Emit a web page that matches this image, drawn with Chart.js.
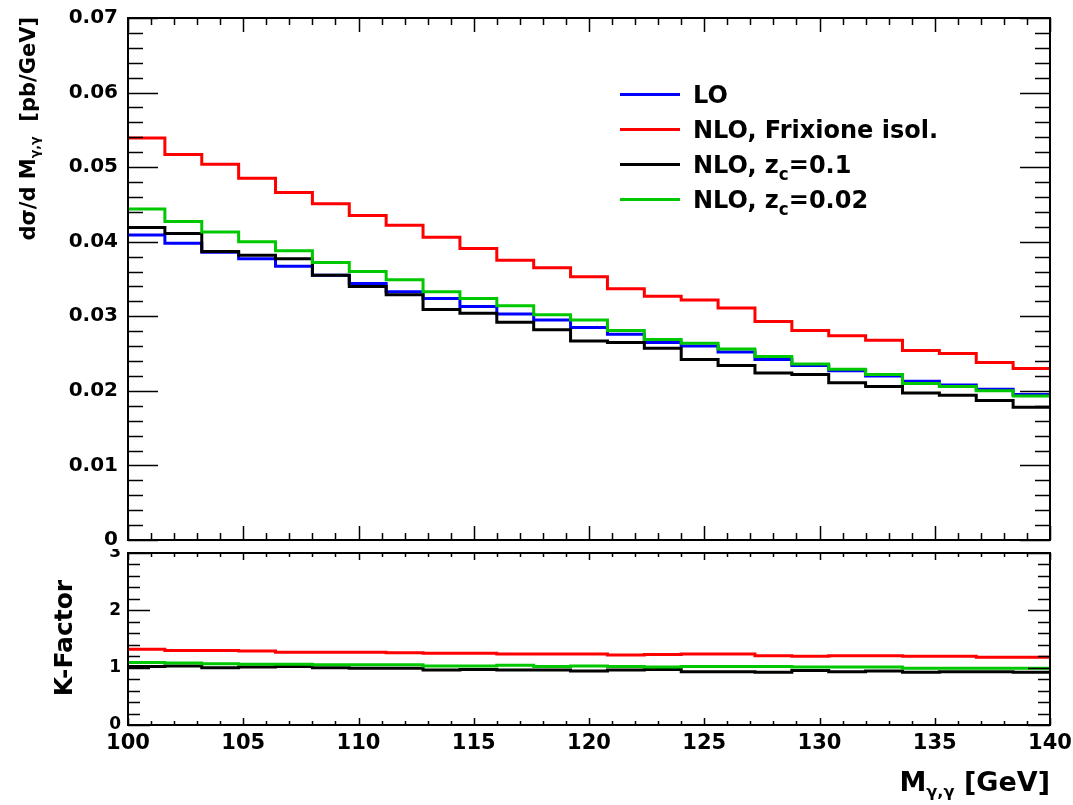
<!DOCTYPE html>
<html>
<head>
<meta charset="utf-8">
<script src="https://cdn.jsdelivr.net/npm/chart.js@4.4.1/dist/chart.umd.min.js"></script>
<style>
  body { margin: 0; background: #fff; }
  #page { position: relative; width: 1073px; height: 805px; overflow: hidden; font-family: "DejaVu Sans", sans-serif; font-weight: bold; }
  .wrap { position: absolute; left: 0; width: 1073px; }
  #topWrap { top: 0; height: 552px; }
  #botWrap { top: 549px; height: 256px; }
  .rot { position: absolute; transform-origin: left top; transform: rotate(-90deg); white-space: nowrap; line-height: 1; }
  .sub { font-size: 0.6em; position: relative; top: 0.35em; }
  #legend { position: absolute; left: 620px; top: 77px; }
  .row { height: 35px; display: flex; align-items: center; font-size: 24px; white-space: nowrap; }
  .swatch { width: 60px; height: 3px; margin-right: 13px; }
  .row .sub { font-size: 0.7em; top: 0.45em; }
  #xTitle { position: absolute; right: 23px; top: 768px; font-size: 27px; line-height: 1; white-space: nowrap; }
</style>
</head>
<body>
<div id="page">
  <div class="wrap" id="topWrap"><canvas id="chartTop"></canvas></div>
  <div class="wrap" id="botWrap"><canvas id="chartBot"></canvas></div>
  <div class="rot" style="left:18px; top:257px; width:240px; text-align:right; font-size:21px;">d&sigma;/d M<span class="sub">&gamma;,&gamma;</span>&nbsp; [pb/GeV]</div>
  <div class="rot" style="left:51px; top:738px; width:200px; text-align:center; font-size:25px;">K-Factor</div>
  <div id="xTitle">M<span class="sub">&gamma;,&gamma;</span> [GeV]</div>
  <div id="legend"></div>
</div>
<script>
// bin edges of the M_gg histogram (GeV)
const binEdges = [100, 101.6, 103.2, 104.8, 106.4, 108, 109.6, 111.2, 112.8, 114.4, 116, 117.6, 119.2,
  120.8, 122.4, 124, 125.6, 127.2, 128.8, 130.4, 132, 133.6, 135.2, 136.8, 138.4, 140]

// dsigma/dM per bin (pb/GeV)
const lo = [0.0409, 0.0398, 0.0386, 0.0377, 0.0367, 0.0355, 0.0344, 0.0333, 0.0324, 0.0313, 0.0303, 0.0295, 0.0285,
  0.0276, 0.0265, 0.0260, 0.0252, 0.0242, 0.0234, 0.0227, 0.0220, 0.0213, 0.0208, 0.0202, 0.0195]
const nloFrixione = [0.0539, 0.0517, 0.0504, 0.0485, 0.0466, 0.0451, 0.0435, 0.0422, 0.0406, 0.0391, 0.0375, 0.0365, 0.0353,
  0.0337, 0.0327, 0.0322, 0.0311, 0.0293, 0.0281, 0.0274, 0.0268, 0.0254, 0.0250, 0.0238, 0.0230]
const nloZc01 = [0.0419, 0.0411, 0.0387, 0.0382, 0.0377, 0.0355, 0.0340, 0.0329, 0.0309, 0.0304, 0.0292, 0.0282, 0.0267,
  0.0265, 0.0257, 0.0242, 0.0234, 0.0224, 0.0222, 0.0211, 0.0206, 0.0197, 0.0194, 0.0187, 0.0178]
const nloZc002 = [0.0444, 0.0427, 0.0413, 0.0400, 0.0388, 0.0372, 0.0360, 0.0349, 0.0333, 0.0324, 0.0314, 0.0302, 0.0295,
  0.0281, 0.0269, 0.0264, 0.0256, 0.0246, 0.0236, 0.0229, 0.0222, 0.0210, 0.0206, 0.0200, 0.0193]

// K-factors (NLO / LO) per bin
const kFrixione = [1.32, 1.30, 1.30, 1.29, 1.27, 1.27, 1.27, 1.26, 1.25, 1.25, 1.24, 1.24, 1.24,
  1.22, 1.23, 1.24, 1.24, 1.21, 1.20, 1.21, 1.21, 1.20, 1.20, 1.18, 1.18]
const kZc01 = [1.02, 1.03, 1.00, 1.01, 1.02, 1.00, 0.99, 0.99, 0.96, 0.97, 0.96, 0.96, 0.94,
  0.96, 0.97, 0.93, 0.93, 0.92, 0.95, 0.93, 0.94, 0.92, 0.93, 0.93, 0.92]
const kZc002 = [1.09, 1.08, 1.07, 1.06, 1.06, 1.05, 1.05, 1.05, 1.03, 1.03, 1.04, 1.02, 1.03,
  1.02, 1.01, 1.02, 1.02, 1.02, 1.01, 1.01, 1.01, 0.99, 0.99, 0.99, 0.99]

const xTicks = [100, 105, 110, 115, 120, 125, 130, 135, 140]

const colors = { lo: '#0000ff', frix: '#ff0000', zc01: '#000000', zc002: '#00c800' }
const legendItems = [
  { color: colors.lo, html: 'LO' },
  { color: colors.frix, html: 'NLO, Frixione isol.' },
  { color: colors.zc01, html: 'NLO, z<span class="sub">c</span>=0.1' },
  { color: colors.zc002, html: 'NLO, z<span class="sub">c</span>=0.02' },
]

document.getElementById('legend').innerHTML = legendItems.map(it =>
  `<div class="row"><div class="swatch" style="background:${it.color}"></div><span>${it.html}</span></div>`).join('')

// histogram points: value held from each lower edge, closed at the last edge
const hist = vals => binEdges.map((x, i) => ({ x, y: vals[Math.min(i, vals.length - 1)] }))

const line = (data, color, order) => ({
  data: hist(data), borderColor: color, borderWidth: 3, stepped: true,
  pointRadius: 0, fill: false, order,
})

// keep the plot frame exactly where the layout padding puts it
const noLabelPad = s => { s.paddingTop = 0; s.paddingBottom = 0; s.paddingLeft = 0; s.paddingRight = 0 }

// inward ROOT-style ticks on all four sides plus the frame
const rootFrame = {
  id: 'rootFrame',
  afterDatasetsDraw(chart, args, o) {
    const { ctx, chartArea: a, scales: { x, y } } = chart
    ctx.save()
    ctx.strokeStyle = '#000'
    ctx.lineWidth = 1.5
    ctx.beginPath()
    const nx = Math.round((x.max - x.min) / o.xStep * o.xDiv)
    for (let i = 0; i <= nx; i++) {
      const px = Math.round(x.getPixelForValue(x.min + i * o.xStep / o.xDiv)) + 0.5
      const len = i % o.xDiv === 0 ? o.xMajor : o.xMinor
      ctx.moveTo(px, a.top); ctx.lineTo(px, a.top + len)
      ctx.moveTo(px, a.bottom); ctx.lineTo(px, a.bottom - len)
    }
    const ny = Math.round((y.max - y.min) / o.yStep * o.yDiv)
    for (let i = 0; i <= ny; i++) {
      const py = Math.round(y.getPixelForValue(y.min + i * o.yStep / o.yDiv)) + 0.5
      const len = i % o.yDiv === 0 ? o.yMajor : o.yMinor
      ctx.moveTo(a.left, py); ctx.lineTo(a.left + len, py)
      ctx.moveTo(a.right, py); ctx.lineTo(a.right - len, py)
    }
    ctx.stroke()
    ctx.lineWidth = 2
    ctx.strokeRect(a.left, a.top, a.right - a.left, a.bottom - a.top)
    ctx.restore()
  }
}

const font = size => ({ family: '"DejaVu Sans"', weight: 'bold', size })

new Chart(document.getElementById('chartTop'), {
  type: 'line',
  data: {
    datasets: [
      line(lo, colors.lo, 4),
      line(nloFrixione, colors.frix, 3),
      line(nloZc01, colors.zc01, 2),
      line(nloZc002, colors.zc002, 1),
    ]
  },
  options: {
    responsive: true, maintainAspectRatio: false, animation: false,
    layout: { padding: { top: 18, right: 23, bottom: 12, left: 0 } },
    plugins: { legend: { display: false }, tooltip: { enabled: false },
      rootFrame: { xStep: 5, xDiv: 5, xMajor: 14, xMinor: 7, yStep: 0.01, yDiv: 5, yMajor: 30, yMinor: 15 } },
    scales: {
      x: { type: 'linear', min: 100, max: 140, display: false },
      y: {
        min: 0, max: 0.07,
        afterFit: s => { s.width = 128; noLabelPad(s) },
        grid: { display: false, drawTicks: false }, border: { display: false },
        ticks: { stepSize: 0.01, padding: 10, color: '#000', font: font(20),
          callback: v => v === 0 ? '0' : v.toFixed(2) },
      }
    }
  },
  plugins: [rootFrame]
})

new Chart(document.getElementById('chartBot'), {
  type: 'line',
  data: {
    datasets: [
      line(kFrixione, colors.frix, 3),
      line(kZc01, colors.zc01, 2),
      line(kZc002, colors.zc002, 1),
    ]
  },
  options: {
    responsive: true, maintainAspectRatio: false, animation: false,
    layout: { padding: { top: 4, right: 23, bottom: 0, left: 0 } },
    plugins: { legend: { display: false }, tooltip: { enabled: false },
      rootFrame: { xStep: 5, xDiv: 5, xMajor: 7, xMinor: 4, yStep: 1, yDiv: 5, yMajor: 22, yMinor: 12 } },
    scales: {
      x: {
        type: 'linear', min: 100, max: 140,
        afterFit: s => { s.height = 80; noLabelPad(s) },
        afterBuildTicks: s => { s.ticks = xTicks.map(value => ({ value })) },
        grid: { display: false, drawTicks: false }, border: { display: false },
        ticks: { padding: 6, color: '#000', font: font(21), maxRotation: 0, autoSkip: false },
      },
      y: {
        min: 0, max: 3,
        afterFit: s => { s.width = 128; noLabelPad(s) },
        grid: { display: false, drawTicks: false }, border: { display: false },
        ticks: { stepSize: 1, padding: 7, color: '#000', font: font(17) },
      }
    }
  },
  plugins: [rootFrame]
})
</script>
</body>
</html>
